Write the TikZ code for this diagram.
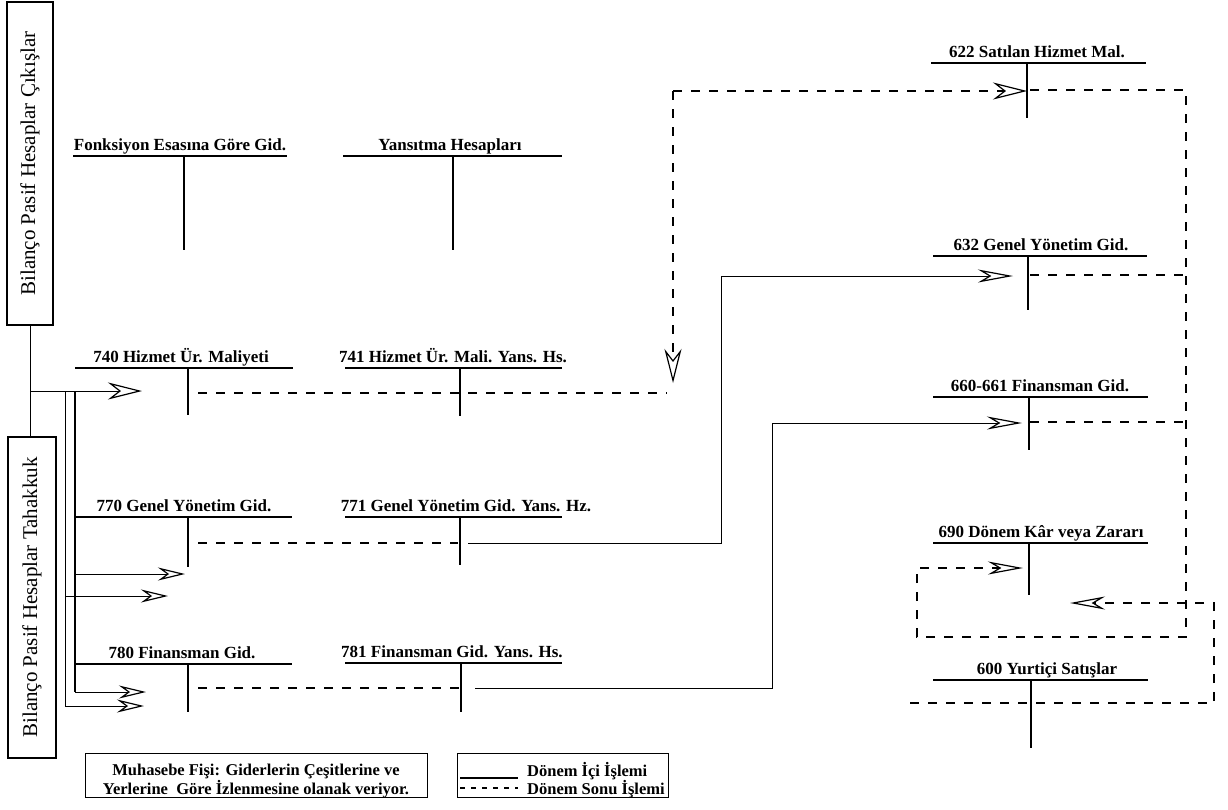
\documentclass[tikz,border=0pt]{standalone}
\usepackage{fontspec}
\setmainfont{Liberation Serif}
\usetikzlibrary{arrows.meta}
\newcommand{\TAccount}[9]{%
  \node[ttitle] (#1) at (#3,#4-6) {#2};
  \coordinate (#1-l) at (#5,#4);
  \coordinate (#1-r) at (#6,#4);
  \coordinate (#1-v) at (#7,#4);
  \coordinate (#1-b) at (#7,#8);
  \draw[#9] (#1-l) -- (#1-r);
  \draw[tvert] (#1-v) -- (#1-b);
}
\tikzset{
  ttitle/.style={font=\fontsize{17}{18}\selectfont\bfseries, inner sep=0pt, anchor=base},
  hthin/.style={line width=1.4pt},
  hthick/.style={line width=2.7pt},
  tvert/.style={line width=1.2pt},
  conn/.style={line width=1pt},
  thickv/.style={line width=2.2pt},
  dsh/.style={line width=1.1pt, dash pattern=on 9pt off 9pt},
  sidebox/.style={draw, line width=2pt, rotate=90, inner sep=0pt, font=\fontsize{21}{21}\selectfont},
  arrA/.style={-{Stealth[open, length=34pt, width=17pt, inset=11pt, line width=1.2pt]}},
  arrB/.style={-{Stealth[open, length=35pt, width=13pt, inset=11pt, line width=1.2pt]}},
  arrC/.style={-{Stealth[open, length=27pt, width=13pt, inset=9pt, line width=1.2pt]}},
}
\begin{document}
\begin{tikzpicture}[x=1pt, y=-1pt]
\fill[white] (0,0) rectangle (1228,809);
\useasboundingbox (0,0) rectangle (1228,809);

% side boxes
\node[sidebox, minimum width=323pt, minimum height=46pt] (bout) at (30,163.5) {Bilanço Pasif Hesaplar Çıkışlar};
\node[sidebox, minimum width=321pt, minimum height=48pt] (bin) at (32,597.5) {Bilanço Pasif Hesaplar Tahakkuk};
\coordinate (bjoin) at (bout.west |- bin.east);
\draw[conn] (bout.west) -- (bjoin);

% T accounts
\TAccount{fon}{Fonksiyon Esasına Göre Gid.}{180}{156}{73}{287}{184}{250}{hthick}
\TAccount{yan}{Yansıtma Hesapları}{450}{156}{343}{562}{453}{250}{hthick}
\TAccount{a740}{740 Hizmet Ür. Maliyeti}{181}{368}{75}{293}{188}{415}{hthick}
\TAccount{a741}{741 Hizmet Ür. Mali. Yans. Hs.}{453}{368}{345}{562}{460}{416}{hthick}
\TAccount{a770}{770 Genel Yönetim Gid.}{184}{517}{75}{292}{188}{567}{hthin}
\TAccount{a771}{771 Genel Yönetim Gid. Yans. Hz.}{466}{517}{345}{562}{460}{565}{hthin}
\TAccount{a780}{780 Finansman Gid.}{182}{664}{75}{292}{188}{712}{hthin}
\TAccount{a781}{781 Finansman Gid. Yans. Hs.}{452}{663}{345}{562}{461}{712}{hthin}
\TAccount{a622}{622 Satılan Hizmet Mal.}{1037}{63}{931}{1146}{1027}{118}{hthin}
\TAccount{a632}{632 Genel Yönetim Gid.}{1041}{256}{933}{1147}{1028}{310}{hthin}
\TAccount{a660}{660-661 Finansman Gid.}{1040}{397}{933}{1148}{1029}{450}{hthin}
\TAccount{a690}{690 Dönem Kâr veya Zararı}{1041}{543}{933}{1148}{1029}{595}{hthin}
\TAccount{a600}{600 Yurtiçi Satışlar}{1047}{680}{933}{1148}{1031}{748}{hthin}

% left feed lines
\coordinate (j0) at (30,391);
\coordinate (in740) at (142,391);
\coordinate (k1) at (75,391);
\coordinate (k2) at (75,692);
\coordinate (m1) at (65,391);
\coordinate (m2) at (65,706);
\coordinate (k3) at (75,574);
\coordinate (m3) at (65,596);
\coordinate (in770a) at (185,574);
\coordinate (in770b) at (168,596);
\coordinate (in780a) at (146,692);
\coordinate (in780b) at (144,706);
\draw[conn, arrA] (j0) -- (in740);
\draw[thickv] (k1) -- (k2);
\draw[conn] (m1) -- (m2);
\draw[conn, arrC] (k3) -- (in770a);
\draw[conn, arrC] (m3) -- (in770b);
\draw[conn, arrC] (k2) -- (in780a);
\draw[conn, arrC] (m2) -- (in780b);

% 740 -> 622 dashed
\coordinate (d740) at (198,393);
\coordinate (d740e) at (667,393);
\coordinate (cup) at (673,91);
\coordinate (tipdown) at (673,383);
\coordinate (tip622) at (a622-v |- cup);
\draw[dsh] (d740) -- (d740e);
\draw[dsh, arrA] (cup) -- (tipdown);
\draw[dsh, arrA] (cup) -- (tip622);

% 771 -> 632 solid
\coordinate (d771) at (198,543);
\coordinate (d771e) at (458,543);
\coordinate (s771) at (468,543);
\coordinate (s771c) at (721,543);
\coordinate (s771u) at (721,276);
\coordinate (tip632) at (1013,276);
\draw[dsh] (d771) -- (d771e);
\draw[conn, arrB] (s771) -- (s771c) -- (s771u) -- (tip632);

% 781 -> 660 solid
\coordinate (d781) at (198,688);
\coordinate (d781e) at (459,688);
\coordinate (s781) at (475,688);
\coordinate (s781c) at (772,688);
\coordinate (s781u) at (772,423);
\coordinate (tip660) at (1022,423);
\draw[dsh] (d781) -- (d781e);
\draw[conn, arrB] (s781) -- (s781c) -- (s781u) -- (tip660);

% closing to 690
\coordinate (r622) at (1030,90);
\coordinate (rc1) at (1186,90);
\coordinate (rc2) at (1186,637);
\coordinate (rc3) at (917,637);
\coordinate (rc4) at (917,568);
\coordinate (tip690) at (1023,568);
\draw[dsh, arrB] (r622) -- (rc1) -- (rc2) -- (rc3) -- (rc4) -- (tip690);
\coordinate (r632) at (1030,275);
\coordinate (r632e) at (1186,275);
\draw[dsh] (r632) -- (r632e);
\coordinate (r660) at (1030,422);
\coordinate (r660e) at (1186,422);
\draw[dsh] (r660) -- (r660e);

% 600 -> 690
\coordinate (y1) at (910,703);
\coordinate (y2) at (1214,703);
\coordinate (y3) at (1214,603);
\coordinate (tip690b) at (1070,603);
\draw[dsh, arrB] (y1) -- (y2) -- (y3) -- (tip690b);

% legends
\node[draw, line width=1pt, minimum width=342pt, minimum height=44pt, inner sep=0pt] (leg1) at (256,775) {};
\node[font=\fontsize{16.5}{14.5}\selectfont\bfseries, align=center, inner sep=0pt] (leg1t) at (256,781) {Muhasebe Fişi: Giderlerin Çeşitlerine ve\\Yerlerine\ \ Göre İzlenmesine olanak veriyor.};
\node[draw, line width=1pt, minimum width=211pt, minimum height=44pt, inner sep=0pt] (leg2) at (562.5,775) {};
\coordinate (ls1) at (460,778);
\coordinate (ls2) at (518,778);
\coordinate (ld1) at (460,788);
\coordinate (ld2) at (518,788);
\draw[line width=1.3pt] (ls1) -- (ls2);
\draw[line width=1.3pt, dash pattern=on 5pt off 6pt] (ld1) -- (ld2);
\node[font=\fontsize{16.5}{17}\selectfont\bfseries, align=left, anchor=west, inner sep=0pt] (leg2t) at (527,780) {Dönem İçi İşlemi\\Dönem Sonu İşlemi};
\end{tikzpicture}
\end{document}
